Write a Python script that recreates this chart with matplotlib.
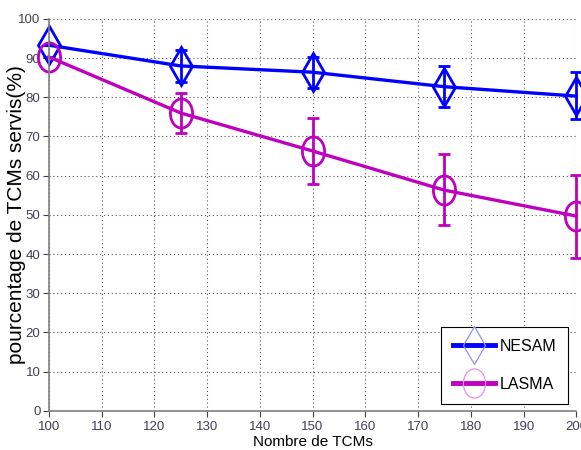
"""
Pourcentage de TCMs servis : NESAM vs LASMA
"""

import numpy as np
import matplotlib.pyplot as plt
from matplotlib.path import Path
from matplotlib.transforms import Affine2D
from matplotlib.lines import Line2D

n_tcm = np.array([100, 125, 150, 175, 200])

nesam = np.array([93.3, 88.0, 86.4, 82.7, 80.3])
nesam_lo = np.array([0.0, 4.0, 4.0, 5.2, 5.8])
nesam_hi = np.array([0.0, 4.0, 4.0, 5.2, 6.2])

lasma = np.array([90.3, 76.0, 66.3, 56.3, 49.7])
lasma_lo = np.array([0.0, 5.0, 8.3, 9.0, 10.7])
lasma_hi = np.array([0.0, 5.0, 8.5, 9.2, 10.5])

xticks = np.arange(100, 201, 10)
yticks = np.arange(0, 101, 10)

blue = '#0000ff'
mag = '#bf00bf'

plt.rcParams['font.family'] = ['Liberation Sans', 'DejaVu Sans']

# tall ellipse marker like the original
ell = Path.unit_circle().transformed(Affine2D().scale(0.76, 1.0))

fig = plt.figure(figsize=(5.81, 4.5), dpi=100)
ax = fig.add_axes([0.084, 0.087, 0.908, 0.871])

for y, lo, hi, c, m, ms in [(nesam, nesam_lo, nesam_hi, blue, 'd', 19.5),
                            (lasma, lasma_lo, lasma_hi, mag, ell, 21)]:
    _, caps, bars = ax.errorbar(n_tcm, y, yerr=[lo, hi], color=c, lw=2.4,
                                marker=m, ms=ms, mfc='none', mec=c, mew=2,
                                elinewidth=2, capsize=4.5, capthick=3)
    for a in list(caps) + list(bars):
        a.set_clip_on(False)
for ln in ax.lines:
    ln.set_clip_on(False)

ax.set_xlim(100, 200)
ax.set_ylim(0, 100)
ax.set_xticks(xticks)
ax.set_yticks(yticks)
ax.grid(True, ls=(0, (1, 2.5)), color='#555555', lw=0.8)
ax.set_axisbelow(True)
for s in ['top', 'right']:
    ax.spines[s].set_visible(False)
for s in ['left', 'bottom']:
    ax.spines[s].set_color('#808080')
    ax.spines[s].set_linewidth(1.2)
ax.tick_params(colors='#404055', length=4)
for lab in ax.get_xticklabels() + ax.get_yticklabels():
    lab.set_family(['Liberation Sans Narrow', 'Liberation Sans'])
    lab.set_fontsize(9.5)
ax.tick_params(axis='x', pad=3)
ax.tick_params(axis='y', pad=2)

ax.set_xlabel('Nombre de TCMs', fontsize=11, labelpad=2)
ax.set_ylabel('pourcentage de TCMs servis(%)', fontsize=15)
ax.yaxis.set_label_coords(-0.043, 0.5)

handles = [Line2D([], [], color=blue, lw=3.5, marker='d', ms=19.5,
                  mfc='none', mec='#9090ff', mew=0.9),
           Line2D([], [], color=mag, lw=3.5, marker=ell, ms=21,
                  mfc='none', mec='#e890e8', mew=0.9)]
leg = ax.legend(handles, ['NESAM', 'LASMA'], loc='lower right', fontsize=11.5,
                fancybox=False, edgecolor='black', framealpha=1,
                handlelength=2.6, handletextpad=0.3, borderpad=0.75,
                labelspacing=1.45, borderaxespad=0,
                bbox_to_anchor=(0.985, 0.018))
leg.get_frame().set_linewidth(0.8)

fig.savefig('out.png', dpi=100)
